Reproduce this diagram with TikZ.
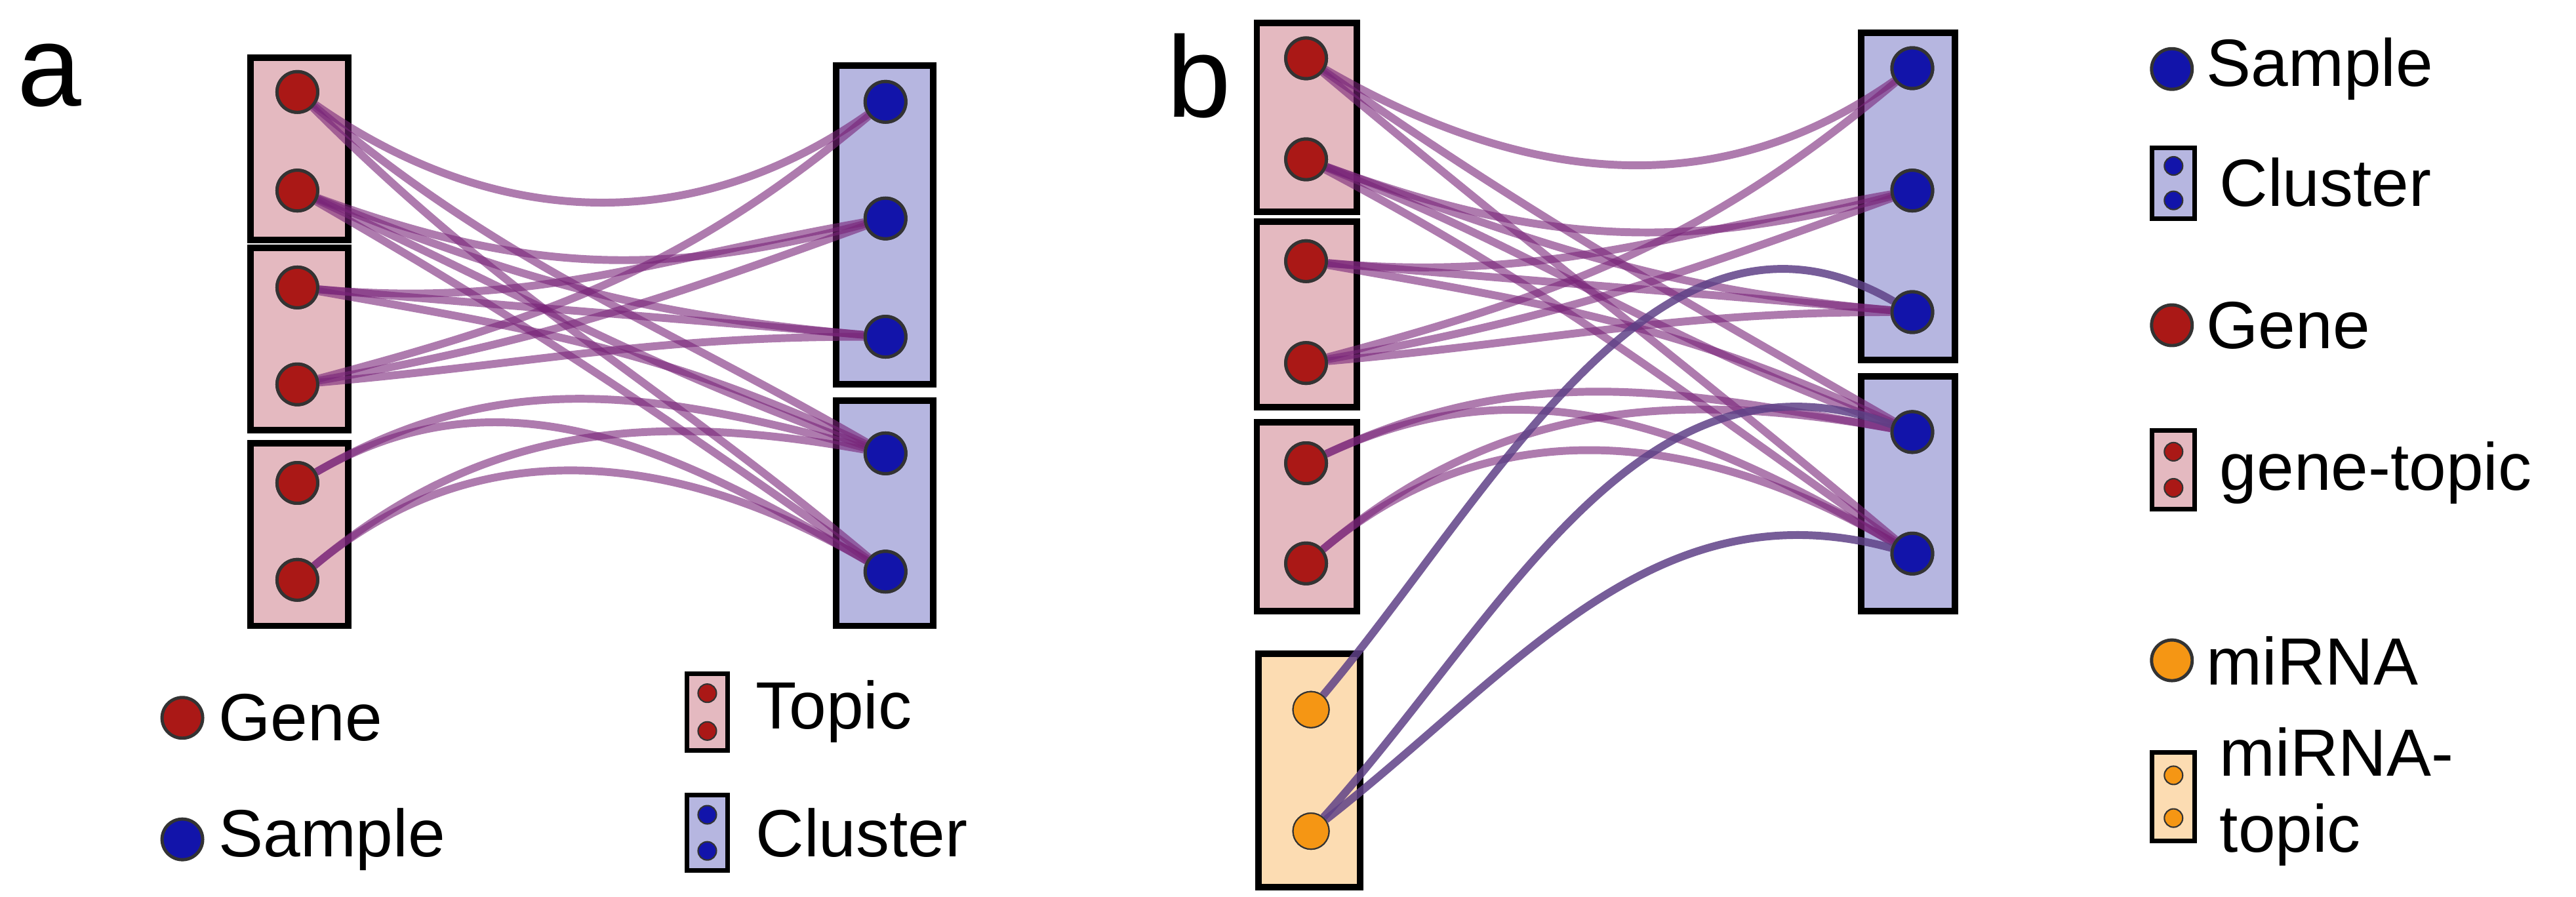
\documentclass[tikz,border=0pt]{standalone}
\usepackage{fontspec}
\setmainfont{Liberation Sans}
\usetikzlibrary{arrows}
\definecolor{genered}{RGB}{170,24,22}
\definecolor{sampleblue}{RGB}{18,20,170}
\definecolor{mirnaorange}{RGB}{245,150,20}
\definecolor{topicfill}{RGB}{228,185,192}
\definecolor{clusterfill}{RGB}{182,182,224}
\definecolor{mtopicfill}{RGB}{252,220,178}
\definecolor{linkcol}{RGB}{120,35,120}
\definecolor{mlinkcol}{RGB}{95,65,135}
\begin{document}
\begin{tikzpicture}[x=0.02505cm,y=-0.02505cm,semithick]
  \tikzstyle{gene}=[circle,fill=genered,draw=black!80,line width=1.4pt,minimum size=0.62cm,inner sep=0pt]
  \tikzstyle{sample}=[gene,fill=sampleblue]
  \tikzstyle{mirna}=[gene,fill=mirnaorange,line width=0.6pt,minimum size=0.55cm]
  \tikzstyle{topic}=[fill=topicfill,draw=black,line width=2.8pt]
  \tikzstyle{cluster}=[topic,fill=clusterfill]
  \tikzstyle{mtopic}=[topic,fill=mtopicfill]
  \tikzstyle{link}=[draw=linkcol,line width=3.4pt,opacity=.6]
  \tikzstyle{mlink}=[draw=mlinkcol,line width=3.4pt,opacity=.85]
  \tikzstyle{dot}=[circle,draw=black!80,line width=0.6pt,minimum size=0.28cm,inner sep=0pt]
  \tikzstyle{legend}=[anchor=west,font=\fontsize{29}{33}\selectfont]
  \tikzstyle{panel}=[font=\fontsize{50}{58}\selectfont]

  \useasboundingbox (0,0) rectangle (1568,546);

  % panel a
  \node[panel] (la) at (30,46) {a};
  \draw[topic] (152.5,35) rectangle (212,146);
  \draw[topic] (152.5,151) rectangle (212,262);
  \draw[topic] (152.5,270) rectangle (212,381);
  \draw[cluster] (509,40) rectangle (568,234);
  \draw[cluster] (509,244) rectangle (568,381);

  \node[gene] (a1) at (181,56) {};
  \node[gene] (a2) at (181,116) {};
  \node[gene] (a3) at (181,175) {};
  \node[gene] (a4) at (181,234) {};
  \node[gene] (a5) at (181,294) {};
  \node[gene] (a6) at (181,353) {};
  \node[sample] (x1) at (539,62) {};
  \node[sample] (x2) at (539,133) {};
  \node[sample] (x3) at (539,205) {};
  \node[sample] (x4) at (539,276) {};
  \node[sample] (x5) at (539,348) {};

  \path[link]
        (a1) edge[out=-35,in=215] (x1)
        (a1) edge[out=-40,in=150] (x4)
        (a1) edge[out=-45,in=140] (x5)
        (a2) edge[out=-20,in=195] (x2)
        (a2) edge[out=-22,in=175] (x3)
        (a2) edge[out=-25,in=160] (x4)
        (a2) edge[out=-30,in=145] (x5)
        (a3) edge[out=-5,in=190] (x2)
        (a3) edge[out=-5,in=175] (x3)
        (a3) edge[out=-10,in=155] (x4)
        (a4) edge[out=15,in=220] (x1)
        (a4) edge[out=10,in=200] (x2)
        (a4) edge[out=5,in=180] (x3)
        (a5) edge[out=30,in=165] (x4)
        (a5) edge[out=30,in=150] (x5)
        (a6) edge[out=40,in=170] (x4)
        (a6) edge[out=40,in=150] (x5);
  \foreach \n in {a1,a2,a3,a4,a5,a6} \node[gene] at (\n) {};
  \foreach \n in {x1,x2,x3,x4,x5} \node[sample] at (\n) {};

  % legend a
  \node[gene] (lg) at (111,437) {};
  \node[legend] (lgt) at (128,437) {Gene};
  \node[sample] (ls) at (111,511) {};
  \node[legend] (lst) at (128,511) {Sample};
  \draw[topic,line width=2pt] (418,410) rectangle (443,457);
  \node[dot,fill=genered] (lt1) at (430.5,422) {};
  \node[dot,fill=genered] (lt2) at (430.5,445) {};
  \node[legend] (ltt) at (455,433) {Topic};
  \draw[cluster,line width=2pt] (418,484) rectangle (443,530);
  \node[dot,fill=sampleblue] (lc1) at (430.5,496) {};
  \node[dot,fill=sampleblue] (lc2) at (430.5,518) {};
  \node[legend] (lct) at (455,507) {Cluster};

  % panel b
  \node[panel] (lb) at (730,46) {b};
  \draw[topic] (765,14) rectangle (826,129);
  \draw[topic] (765,135) rectangle (826,248);
  \draw[topic] (765,257) rectangle (826,372);
  \draw[mtopic] (766,398) rectangle (828,540);
  \draw[cluster] (1133,20) rectangle (1190,219);
  \draw[cluster] (1133,229) rectangle (1190,372);

  \node[gene] (b1) at (795,35.5) {};
  \node[gene] (b2) at (795,97) {};
  \node[gene] (b3) at (795,159) {};
  \node[gene] (b4) at (795,221) {};
  \node[gene] (b5) at (795,282) {};
  \node[gene] (b6) at (795,343) {};
  \node[mirna] (m1) at (798,432) {};
  \node[mirna] (m2) at (798,506) {};
  \node[sample] (y1) at (1164,41.5) {};
  \node[sample] (y2) at (1164,116) {};
  \node[sample] (y3) at (1164,190) {};
  \node[sample] (y4) at (1164,263) {};
  \node[sample] (y5) at (1164,337) {};

  \path[link]
        (b1) edge[out=-30,in=215] (y1)
        (b1) edge[out=-35,in=150] (y4)
        (b1) edge[out=-40,in=140] (y5)
        (b2) edge[out=-20,in=195] (y2)
        (b2) edge[out=-20,in=175] (y3)
        (b2) edge[out=-22,in=160] (y4)
        (b2) edge[out=-28,in=145] (y5)
        (b3) edge[out=-5,in=190] (y2)
        (b3) edge[out=-5,in=175] (y3)
        (b3) edge[out=-10,in=155] (y4)
        (b4) edge[out=15,in=220] (y1)
        (b4) edge[out=10,in=200] (y2)
        (b4) edge[out=5,in=180] (y3)
        (b5) edge[out=25,in=170] (y4)
        (b5) edge[out=25,in=150] (y5)
        (b6) edge[out=40,in=170] (y4)
        (b6) edge[out=40,in=150] (y5);
  \path[mlink]
        (m1) edge[out=50,in=150] (y3)
        (m2) edge[out=48,in=160] (y4)
        (m2) edge[out=38,in=165] (y5);
  \foreach \n in {b1,b2,b3,b4,b5,b6} \node[gene] at (\n) {};
  \foreach \n in {y1,y2,y3,y4,y5} \node[sample] at (\n) {};
  \foreach \n in {m1,m2} \node[mirna] at (\n) {};

  % legend b
  \node[sample] (ms) at (1322,42) {};
  \node[legend] (mst) at (1338,42) {Sample};
  \draw[cluster,line width=2pt] (1310,90) rectangle (1336,133);
  \node[dot,fill=sampleblue] (mc1) at (1323,101) {};
  \node[dot,fill=sampleblue] (mc2) at (1323,122) {};
  \node[legend] (mct) at (1346,111) {Cluster};
  \node[gene] (mg) at (1322,198) {};
  \node[legend] (mgt) at (1338,198) {Gene};
  \draw[topic,line width=2pt] (1310,262) rectangle (1336,310);
  \node[dot,fill=genered] (mt1) at (1323,275) {};
  \node[dot,fill=genered] (mt2) at (1323,297) {};
  \node[legend] (mtt) at (1346,288) {gene-topic};
  \node[mirna,line width=1.4pt,minimum size=0.62cm] (mm) at (1322,402) {};
  \node[legend] (mmt) at (1338,402) {miRNA};
  \draw[mtopic,line width=2pt] (1310,458) rectangle (1336,512);
  \node[dot,fill=mirnaorange] (mo1) at (1323,472) {};
  \node[dot,fill=mirnaorange] (mo2) at (1323,498) {};
  \node[legend,align=left] (mot) at (1346,485) {miRNA-\\topic};
\end{tikzpicture}
\end{document}
